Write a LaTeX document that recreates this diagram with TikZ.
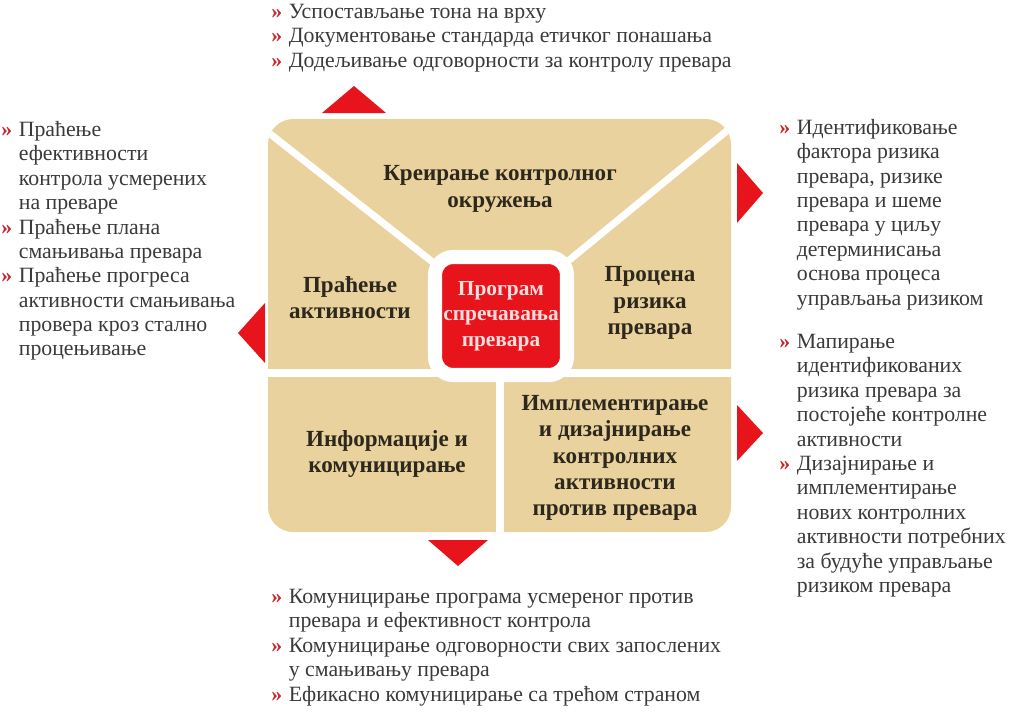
\documentclass[tikz,border=0pt]{standalone}
\usepackage{fontspec}
\setmainfont{Liberation Serif}
\usetikzlibrary{positioning}
\definecolor{boxtan}{RGB}{234,210,158}
\definecolor{fraudred}{RGB}{232,20,28}
\definecolor{bulred}{RGB}{196,38,44}
\definecolor{bodygray}{RGB}{58,58,58}
\definecolor{labelbrown}{RGB}{45,40,28}
\definecolor{progpink}{RGB}{255,222,222}
\newcommand{\bul}{\makebox[12.5pt][l]{\textcolor{bulred}{\textbf{»}}}}
\newcommand{\ind}{\hspace*{12.5pt}}
\tikzset{
  every node/.style={inner sep=0pt},
  bulletlist/.style={anchor=north west, align=left, text=bodygray, font=\fontsize{15.5}{17.35}\selectfont},
  boxlabel/.style={align=center, text=labelbrown, font=\fontsize{16.4}{18.6}\selectfont\bfseries},
  divider/.style={white, line width=5pt},
  pointer/.style={fill=fraudred},
}
\begin{document}
\begin{tikzpicture}[x=0.025cm, y=-0.025cm]
  \useasboundingbox (0,0) rectangle (1013,711);
  % square with its dividers
  \fill[boxtan, rounded corners=18pt] (268,119) rectangle (731,532);
  \begin{scope}
    \clip[rounded corners=18pt] (268,119) rectangle (731,532);
    \draw[divider] (250,118) -- (501,316) -- (751,111);
    \draw[divider] (250,373) -- (751,373);
    \draw[divider] (500,373) -- (500,550);
  \end{scope}
  % pointers
  \fill[pointer] (322,113) -- (386,113) -- (354,86) -- cycle;
  \fill[pointer] (428,540) -- (488,540) -- (458,566) -- cycle;
  \fill[pointer] (265,303) -- (265,363) -- (238,333) -- cycle;
  \fill[pointer] (737,163) -- (737,223) -- (763,193) -- cycle;
  \fill[pointer] (737,405) -- (737,461) -- (763,433) -- cycle;
  % center
  \node[fill=fraudred, draw=white, line width=10pt, rounded corners=13pt,
        minimum width=3.3cm, minimum height=2.95cm] (prog) at (501,316) {};
  \node[boxlabel, text=progpink, font=\fontsize{15.2}{18.2}\selectfont\bfseries] (progtext) at (prog) {Програм\\спречавања\\превара};
  % box labels
  \node[boxlabel] (env) at (500,189) {Креирање контролног\\окружења};
  \node[boxlabel] (monitor) at (350,298) {Праћење\\активности};
  \node[boxlabel] (risk) at (650,303) {Процена\\ризика\\превара};
  \node[boxlabel] (info) at (387,454) {Информације и\\комуницирање};
  \node[boxlabel] (impl) at (615,458) {Имплементирање\\и дизајнирање\\контролних\\активности\\против превара};
  % lists
  \node[bulletlist] (envlist) at (271,4) {\bul Успостављање тона на врху\\
    \bul Документовање стандарда етичког понашања\\
    \bul Додељивање одговорности за контролу превара};
  \node[bulletlist] (monlist) at (1,121) {\bul Праћење\\
    \ind ефективности\\
    \ind контрола усмерених\\
    \ind на преваре\\
    \bul Праћење плана\\
    \ind смањивања превара\\
    \bul Праћење прогреса\\
    \ind активности смањивања\\
    \ind провера кроз стално\\
    \ind процењивање};
  \node[bulletlist] (risklist) at (779,119) {\bul Идентификовање\\
    \ind фактора ризика\\
    \ind превара, ризике\\
    \ind превара и шеме\\
    \ind превара у циљу\\
    \ind детерминисања\\
    \ind основа процеса\\
    \ind управљања ризиком};
  \node[bulletlist] (impllist) at (779,334) {\bul Мапирање\\
    \ind идентификованих\\
    \ind ризика превара за\\
    \ind постојеће контролне\\
    \ind активности\\
    \bul Дизајнирање и\\
    \ind имплементирање\\
    \ind нових контролних\\
    \ind активности потребних\\
    \ind за будуће управљање\\
    \ind ризиком превара};
  \node[bulletlist] (infolist) at (271,589) {\bul Комуницирање програма усмереног против\\
    \ind превара и ефективност контрола\\
    \bul Комуницирање одговорности свих запослених\\
    \ind у смањивању превара\\
    \bul Ефикасно комуницирање са трећом страном};
\end{tikzpicture}
\end{document}
